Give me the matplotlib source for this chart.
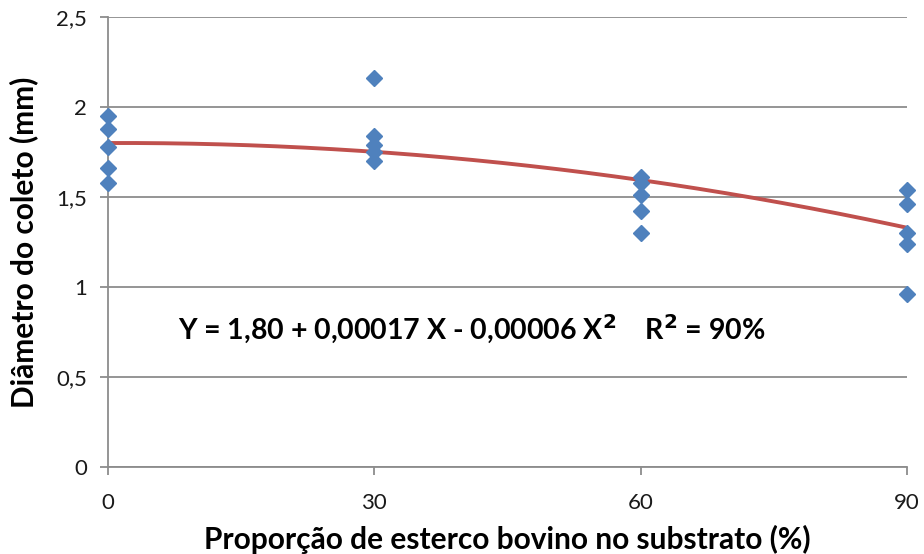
import numpy as np
import matplotlib.pyplot as plt

# Proporção de esterco bovino (%) e diâmetro do coleto (mm)
x_vals = [0, 0, 0, 0, 0,
          30, 30, 30, 30, 30,
          60, 60, 60, 60, 60,
          90, 90, 90, 90, 90]
y_vals = [1.95, 1.88, 1.78, 1.66, 1.58,
          2.16, 1.84, 1.79, 1.75, 1.70,
          1.61, 1.58, 1.51, 1.42, 1.30,
          1.54, 1.46, 1.30, 1.24, 0.96]

x_ticks = [0, 30, 60, 90]
y_ticks = [0, 0.5, 1, 1.5, 2, 2.5]
y_tick_labels = ["0", "0,5", "1", "1,5", "2", "2,5"]

# trend line coefficients from the equation shown on the chart
coef = [1.80, 0.00017, -0.00006]


def main():
    plt.rcParams["font.family"] = ["Lato", "DejaVu Sans"]
    fig = plt.figure(figsize=(9.24, 5.54), dpi=100)
    ax = fig.add_axes([0.1169, 0.157, 0.8647, 0.8123])

    xs = np.linspace(0, 90, 200)
    ys = coef[0] + coef[1] * xs + coef[2] * xs ** 2
    ax.plot(xs, ys, color="#C0504D", lw=2.8, zorder=2)
    ax.plot(x_vals, y_vals, "D", color="#4F81BD", ms=8.5, mec="#4F81BD", zorder=3, clip_on=False)

    ax.set_xlim(0, 90)
    ax.set_ylim(0, 2.5)
    ax.set_xticks(x_ticks)
    ax.set_yticks(y_ticks)
    ax.set_yticklabels(y_tick_labels)
    ax.yaxis.grid(True, color="#8C8C8C", lw=1.3)
    ax.set_axisbelow(True)
    for s in ["top", "right"]:
        ax.spines[s].set_visible(False)
    for s in ["left", "bottom"]:
        ax.spines[s].set_color("#8C8C8C")
        ax.spines[s].set_linewidth(1.3)
    ax.tick_params(axis="both", colors="#8C8C8C", length=6, width=1.3,
                   labelcolor="#1a1a1a", labelsize=16)
    ax.tick_params(axis="x", pad=13)
    ax.tick_params(axis="y", pad=9)

    ax.set_xlabel("Proporção de esterco bovino no substrato (%)", fontsize=21.5,
                  fontweight="bold", va="center")
    ax.xaxis.set_label_coords(0.5, -0.162)
    ax.set_ylabel("Diâmetro do coleto (mm)", fontsize=21.5, fontweight="bold", va="center")
    ax.yaxis.set_label_coords(-0.106, 0.5)

    ax.text(0.088, 0.305, r"Y = 1,80 + 0,00017 X - 0,00006 X$^{\mathbf{2}}$    R$^{\mathbf{2}}$ = 90%",
            transform=ax.transAxes, fontsize=20.5, fontweight="bold", va="center")

    fig.savefig("out.png", dpi=100)


if __name__ == "__main__":
    main()
